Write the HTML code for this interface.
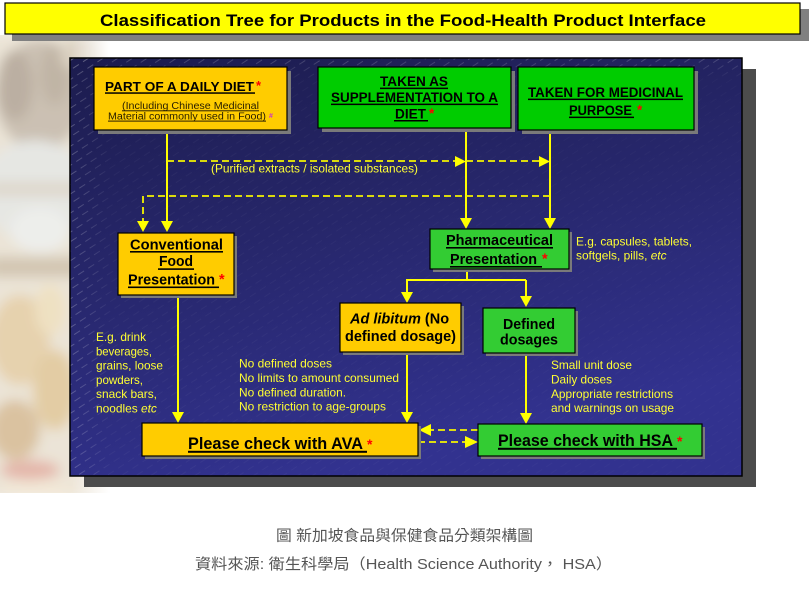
<!DOCTYPE html>
<html><head><meta charset="utf-8"><style>
html,body{margin:0;padding:0;background:#fff;}
svg{display:block;}
text{font-family:"Liberation Sans",Arial,sans-serif;}
.b{font-weight:bold;fill:#000;}
.a{fill:#ffff33;font-size:11.9px;}
.cap{font-family:"Liberation Sans","Noto Sans CJK TC",sans-serif;fill:#555;font-size:15px;}
</style></head><body>
<svg width="810" height="600" viewBox="0 0 810 600" xmlns="http://www.w3.org/2000/svg">
<defs>
<linearGradient id="pg" x1="0" y1="0" x2="0.35" y2="1">
<stop offset="0" stop-color="#1c1c4e"/>
<stop offset="0.5" stop-color="#27276c"/>
<stop offset="1" stop-color="#32328f"/>
</linearGradient>
<pattern id="hatch" width="12" height="8" patternUnits="userSpaceOnUse" patternTransform="rotate(-33)">
<line x1="0" y1="1" x2="7" y2="1" stroke="#ffffff" stroke-width="0.7"/>
</pattern>
<linearGradient id="mg1" x1="0" y1="0" x2="1" y2="0">
<stop offset="0" stop-color="#fff" stop-opacity="0.35"/>
<stop offset="0.06" stop-color="#fff" stop-opacity="0.06"/>
<stop offset="1" stop-color="#fff" stop-opacity="0.03"/>
</linearGradient>
<linearGradient id="mg2" x1="0" y1="0" x2="0" y2="1">
<stop offset="0" stop-color="#fff" stop-opacity="0.25"/>
<stop offset="0.05" stop-color="#fff" stop-opacity="0"/>
<stop offset="1" stop-color="#fff" stop-opacity="0"/>
</linearGradient>
<mask id="hm">
<rect x="70" y="58" width="672" height="418" fill="url(#mg1)"/>
<rect x="70" y="58" width="672" height="418" fill="url(#mg2)"/>
</mask>
<filter id="blur" x="-20%" y="-20%" width="140%" height="140%"><feGaussianBlur stdDeviation="6"/></filter>
<linearGradient id="fadeg" x1="0" y1="0" x2="1" y2="0">
<stop offset="0" stop-color="#fff" stop-opacity="1"/>
<stop offset="0.65" stop-color="#fff" stop-opacity="1"/>
<stop offset="1" stop-color="#fff" stop-opacity="0"/>
</linearGradient>
<mask id="pm"><rect x="0" y="35" width="110" height="458" fill="url(#fadeg)"/></mask>
</defs>

<!-- faded background photo -->
<g mask="url(#pm)">
<g filter="url(#blur)" opacity="0.85">
<rect x="-20" y="30" width="140" height="470" fill="#e8e0d0"/>
<ellipse cx="40" cy="95" rx="45" ry="55" fill="#c2b6a6"/>
<ellipse cx="15" cy="85" rx="18" ry="35" fill="#b0a292"/>
<ellipse cx="55" cy="75" rx="15" ry="30" fill="#b6a896"/>
<ellipse cx="85" cy="55" rx="25" ry="18" fill="#d6cab8"/>
<ellipse cx="35" cy="190" rx="55" ry="50" fill="#e2e3df"/>
<rect x="-10" y="182" width="90" height="14" fill="#d8d0c2"/>
<rect x="-10" y="257" width="90" height="20" fill="#cbbca4"/>
<ellipse cx="40" cy="230" rx="30" ry="22" fill="#eaebe8"/>
<ellipse cx="20" cy="340" rx="30" ry="45" fill="#e2caa0"/>
<ellipse cx="55" cy="390" rx="22" ry="40" fill="#dfc494"/>
<ellipse cx="15" cy="430" rx="25" ry="30" fill="#d4b890"/>
<ellipse cx="50" cy="310" rx="15" ry="25" fill="#ecdcb8"/>
<ellipse cx="30" cy="470" rx="30" ry="10" fill="#e0aa9c"/>
<ellipse cx="40" cy="488" rx="40" ry="8" fill="#f0e4d0"/>
</g>
</g>

<!-- title -->
<rect x="12" y="9" width="797" height="32" fill="#808080"/>
<rect x="5" y="3" width="795" height="31" fill="#ffff00" stroke="#000" stroke-width="1.2"/>
<text x="100" y="26" class="b" font-size="16.5" textLength="606" lengthAdjust="spacingAndGlyphs">Classification Tree for Products in the Food-Health Product Interface</text>

<!-- panel -->
<rect x="84" y="69" width="672" height="418" fill="#4c4c4c"/>
<rect x="70" y="58" width="672" height="418" fill="url(#pg)"/>
<rect x="70" y="58" width="672" height="418" fill="url(#hatch)" mask="url(#hm)"/>
<rect x="70" y="58" width="672" height="418" fill="none" stroke="#000" stroke-width="1.5"/>

<!-- connectors -->
<g stroke="#ffff00" stroke-width="2" fill="none">
<path d="M167 130 V222"/>
<path d="M466 128 V219"/>
<path d="M550 130 V219"/>
<path d="M467 269 V280 M406 280 H526 M407 280 V293 M526 280 V297"/>
<path d="M178 295 V412"/>
<path d="M407 352 V412"/>
<path d="M526 353 V413"/>
</g>
<g stroke="#f4f400" stroke-width="1.8" fill="none" stroke-dasharray="7 4">
<path d="M167 161 H456"/>
<path d="M466 161 H540"/>
<path d="M550 196 H143 V222"/>
<path d="M478 430 H430"/>
<path d="M418 442 H466"/>
</g>
<g fill="#ffff00">
<polygon points="161,221 173,221 167,232"/>
<polygon points="137,221 149,221 143,232"/>
<polygon points="460,218 472,218 466,229"/>
<polygon points="544,218 556,218 550,229"/>
<polygon points="455,156 455,167 466,161.5"/>
<polygon points="539,156 539,167 550,161.5"/>
<polygon points="401,292 413,292 407,303"/>
<polygon points="520,296 532,296 526,307"/>
<polygon points="172,412 184,412 178,423"/>
<polygon points="401,412 413,412 407,423"/>
<polygon points="520,413 532,413 526,424"/>
<polygon points="431,424 431,436 419,430"/>
<polygon points="465,436 465,448 478,442"/>
</g>

<!-- box shadows -->
<g fill="#7a7a7a">
<rect x="98" y="71" width="193" height="63"/>
<rect x="322" y="71" width="193" height="61"/>
<rect x="522" y="71" width="176" height="63"/>
<rect x="121" y="236" width="116" height="62"/>
<rect x="433" y="232" width="139" height="40"/>
<rect x="343" y="306" width="121" height="49"/>
<rect x="486" y="311" width="92" height="45"/>
<rect x="145" y="426" width="276" height="33"/>
<rect x="481" y="427" width="224" height="32"/>
</g>
<!-- boxes -->
<g stroke="#000" stroke-width="1.2">
<rect x="94" y="67" width="193" height="63" fill="#ffcc00"/>
<rect x="318" y="67" width="193" height="61" fill="#00cc00"/>
<rect x="518" y="67" width="176" height="63" fill="#00cc00"/>
<rect x="118" y="233" width="116" height="62" fill="#ffcc00"/>
<rect x="430" y="229" width="139" height="40" fill="#33cc33"/>
<rect x="340" y="303" width="121" height="49" fill="#ffcc00"/>
<rect x="483" y="308" width="92" height="45" fill="#33cc33"/>
<rect x="142" y="423" width="276" height="33" fill="#ffcc00"/>
<rect x="478" y="424" width="224" height="32" fill="#33cc33"/>
</g>

<!-- box texts -->
<g>
<text x="105" y="91" class="b" font-size="13.3" textLength="149" lengthAdjust="spacingAndGlyphs">PART OF A DAILY DIET</text>
<rect x="105" y="92.3" width="150" height="1.5" fill="#000"/>
<text x="256" y="90" font-size="13" font-weight="bold" fill="#ff0000">*</text>
<text x="122" y="109" font-size="10" fill="#2a2000" textLength="137" lengthAdjust="spacingAndGlyphs">(Including Chinese Medicinal</text>
<rect x="122" y="110.3" width="137" height="1" fill="#2a2000"/>
<text x="108" y="119.3" font-size="10" fill="#2a2000" textLength="158" lengthAdjust="spacingAndGlyphs">Material commonly used in Food)</text>
<rect x="108" y="120.6" width="158" height="1" fill="#2a2000"/>
<text x="269" y="118" font-size="7" font-weight="bold" fill="#cc33cc">#</text>

<text x="380" y="86" class="b" font-size="13.5" textLength="68" lengthAdjust="spacingAndGlyphs">TAKEN AS</text>
<rect x="380" y="87.6" width="68" height="1.5" fill="#000"/>
<text x="331" y="102" class="b" font-size="13.5" textLength="167" lengthAdjust="spacingAndGlyphs">SUPPLEMENTATION TO A</text>
<rect x="331" y="103.6" width="167" height="1.5" fill="#000"/>
<text x="395" y="118.5" class="b" font-size="13.5" textLength="31" lengthAdjust="spacingAndGlyphs">DIET</text>
<rect x="394" y="120" width="34" height="1.5" fill="#000"/>
<text x="429" y="118" font-size="13.5" font-weight="bold" fill="#ff0000">*</text>

<text x="528" y="97" class="b" font-size="13.5" textLength="155" lengthAdjust="spacingAndGlyphs">TAKEN FOR MEDICINAL</text>
<rect x="528" y="98.6" width="155" height="1.5" fill="#000"/>
<text x="569" y="115" class="b" font-size="13.5" textLength="63" lengthAdjust="spacingAndGlyphs">PURPOSE</text>
<rect x="569" y="116.6" width="65" height="1.5" fill="#000"/>
<text x="637" y="114.5" font-size="13.5" font-weight="bold" fill="#ff0000">*</text>

<text x="130" y="249.3" class="b" font-size="14.5" textLength="93" lengthAdjust="spacingAndGlyphs">Conventional</text>
<rect x="130" y="251" width="93" height="1.6" fill="#000"/>
<text x="159" y="266" class="b" font-size="14.5" textLength="34" lengthAdjust="spacingAndGlyphs">Food</text>
<rect x="158" y="268.3" width="36" height="1.6" fill="#000"/>
<text x="128" y="284.3" class="b" font-size="14.5" textLength="87" lengthAdjust="spacingAndGlyphs">Presentation</text>
<rect x="128" y="286.5" width="91" height="1.6" fill="#000"/>
<text x="219" y="284" font-size="14.5" font-weight="bold" fill="#ff0000">*</text>

<text x="446" y="245" class="b" font-size="14.5" textLength="107" lengthAdjust="spacingAndGlyphs">Pharmaceutical</text>
<rect x="446" y="247" width="107" height="1.6" fill="#000"/>
<text x="450" y="264" class="b" font-size="14.5" textLength="87" lengthAdjust="spacingAndGlyphs">Presentation</text>
<rect x="450" y="266" width="92" height="1.6" fill="#000"/>
<text x="542" y="263.5" font-size="14.5" font-weight="bold" fill="#ff0000">*</text>

<text x="350" y="323.3" class="b" font-size="14.5"><tspan font-style="italic">Ad libitum</tspan> (No</text>
<text x="345" y="341" class="b" font-size="14.5" textLength="111" lengthAdjust="spacingAndGlyphs">defined dosage)</text>

<text x="503" y="329" class="b" font-size="14.5" textLength="52" lengthAdjust="spacingAndGlyphs">Defined</text>
<text x="500" y="344.5" class="b" font-size="14.5" textLength="58" lengthAdjust="spacingAndGlyphs">dosages</text>

<text x="188" y="449" class="b" font-size="16.4" textLength="175" lengthAdjust="spacingAndGlyphs">Please check with AVA</text>
<rect x="188" y="450.8" width="179" height="2" fill="#000"/>
<text x="367" y="449" font-size="14" font-weight="bold" fill="#ff0000">*</text>

<text x="498" y="446" class="b" font-size="16.4" textLength="175" lengthAdjust="spacingAndGlyphs">Please check with HSA</text>
<rect x="498" y="447.8" width="179" height="2" fill="#000"/>
<text x="677" y="446" font-size="14" font-weight="bold" fill="#ff0000">*</text>
</g>

<!-- annotations -->
<text x="211" y="172.5" class="a" textLength="207" lengthAdjust="spacingAndGlyphs">(Purified extracts / isolated substances)</text>
<text x="576" y="245.5" class="a" textLength="116" lengthAdjust="spacingAndGlyphs">E.g. capsules, tablets,</text>
<text x="576" y="259.5" class="a">softgels, pills, <tspan font-style="italic">etc</tspan></text>

<text x="96" y="341" class="a" textLength="50" lengthAdjust="spacingAndGlyphs">E.g. drink</text>
<text x="96" y="355.3" class="a" textLength="56" lengthAdjust="spacingAndGlyphs">beverages,</text>
<text x="96" y="369.6" class="a" textLength="67" lengthAdjust="spacingAndGlyphs">grains, loose</text>
<text x="96" y="383.9" class="a" textLength="47" lengthAdjust="spacingAndGlyphs">powders,</text>
<text x="96" y="398.2" class="a" textLength="61" lengthAdjust="spacingAndGlyphs">snack bars,</text>
<text x="96" y="412.5" class="a">noodles <tspan font-style="italic">etc</tspan></text>

<text x="239" y="367.5" class="a" textLength="93" lengthAdjust="spacingAndGlyphs">No defined doses</text>
<text x="239" y="382" class="a" textLength="160" lengthAdjust="spacingAndGlyphs">No limits to amount consumed</text>
<text x="239" y="396.3" class="a" textLength="107" lengthAdjust="spacingAndGlyphs">No defined duration.</text>
<text x="239" y="410.6" class="a" textLength="147" lengthAdjust="spacingAndGlyphs">No restriction to age-groups</text>

<text x="551" y="369" class="a" textLength="81" lengthAdjust="spacingAndGlyphs">Small unit dose</text>
<text x="551" y="383.5" class="a" textLength="61" lengthAdjust="spacingAndGlyphs">Daily doses</text>
<text x="551" y="397.8" class="a" textLength="122" lengthAdjust="spacingAndGlyphs">Appropriate restrictions</text>
<text x="551" y="412" class="a" textLength="123" lengthAdjust="spacingAndGlyphs">and warnings on usage</text>

<!-- caption -->
<text x="276" y="540.5" class="cap" textLength="257" lengthAdjust="spacingAndGlyphs">圖 新加坡食品與保健食品分類架構圖</text>
<text x="195" y="569" class="cap" textLength="417" lengthAdjust="spacingAndGlyphs">資料來源: 衛生科學局（Health Science Authority， HSA）</text>
</svg>
</body></html>
